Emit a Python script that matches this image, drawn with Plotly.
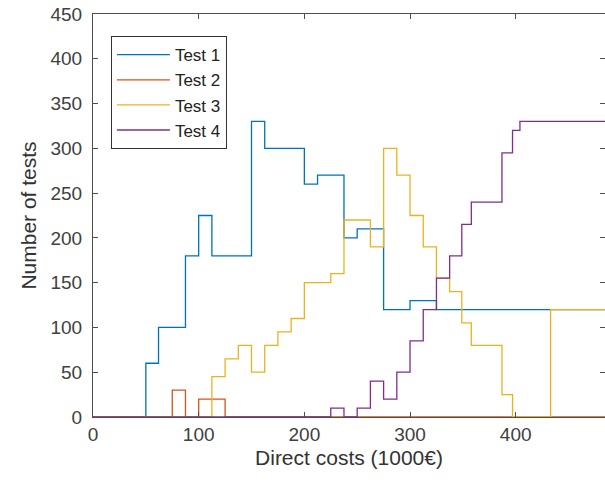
import plotly.graph_objects as go

# Step edges (left edge of each step) and counts for each test
t1_edges = [0, 50, 62, 87.5, 100, 112.5, 150, 162.5, 200, 212.5, 237.5, 250, 275, 300, 325]
t1_counts = [0, 60, 100, 180, 225, 180, 330, 300, 260, 270, 200, 210, 120, 130, 120]

t2_edges = [0, 75, 87.5, 100, 125]
t2_counts = [0, 30, 0, 20, 0]

t3_edges = [0, 112.5, 125, 137.5, 150, 162.5, 175, 187.5, 200, 225, 237.5, 262.5, 275,
            287.5, 300, 312.5, 325, 337.5, 349, 358, 387, 397, 433]
t3_counts = [0, 45, 65, 80, 50, 80, 95, 110, 150, 160, 220, 190, 300,
             270, 225, 190, 155, 140, 105, 80, 25, 0, 120]

t4_edges = [0, 225, 237.5, 250, 262.5, 275, 287.5, 300, 312.5, 325, 337.5, 349, 358, 387, 397, 404]
t4_counts = [0, 10, 0, 10, 40, 20, 50, 85, 120, 155, 180, 215, 240, 295, 320, 330]

x_end = 500
names = ["Test 1", "Test 2", "Test 3", "Test 4"]
colors = ["#0072BD", "#D95319", "#EDB120", "#7E2F8E"]
series = [(t1_edges, t1_counts), (t2_edges, t2_counts), (t3_edges, t3_counts), (t4_edges, t4_counts)]

fig = go.Figure()
for (ed, ct), nm, col in zip(series, names, colors):
    xs = list(ed) + [x_end]
    ys = list(ct) + [ct[-1]]
    fig.add_trace(go.Scatter(x=xs, y=ys, mode="lines", name=nm,
                             line=dict(color=col, width=1.3, shape="hv")))

axis_common = dict(showgrid=False, zeroline=False, showline=True, linecolor="#4d4d4d",
                   linewidth=1, mirror="ticks", ticks="inside", ticklen=5, tickcolor="#4d4d4d",
                   tickfont=dict(family="Liberation Sans, Arial", size=19, color="#404040"))

fig.update_layout(
    width=605, height=486,
    margin=dict(l=93, r=0, t=14, b=69),
    paper_bgcolor="white", plot_bgcolor="white",
    showlegend=True,
    legend=dict(x=0.035, y=0.945, xanchor="left", yanchor="top",
                bgcolor="white", bordercolor="#333333", borderwidth=1,
                itemwidth=53, tracegroupgap=0,
                font=dict(family="Liberation Sans, Arial", size=17, color="#222222")),
    xaxis=dict(range=[0, 484.5], tickvals=[0, 100, 200, 300, 400],
               title=dict(text="Direct costs (1000€)", standoff=6,
                          font=dict(family="Liberation Sans, Arial", size=21, color="#333333")),
               **axis_common),
    yaxis=dict(range=[0, 450], tickvals=[0, 50, 100, 150, 200, 250, 300, 350, 400, 450],
               title=dict(text="Number of tests", standoff=8,
                          font=dict(family="Liberation Sans, Arial", size=21, color="#333333")),
               ticklabelstandoff=6,
               **axis_common),
)

fig.write_html("out.html")
